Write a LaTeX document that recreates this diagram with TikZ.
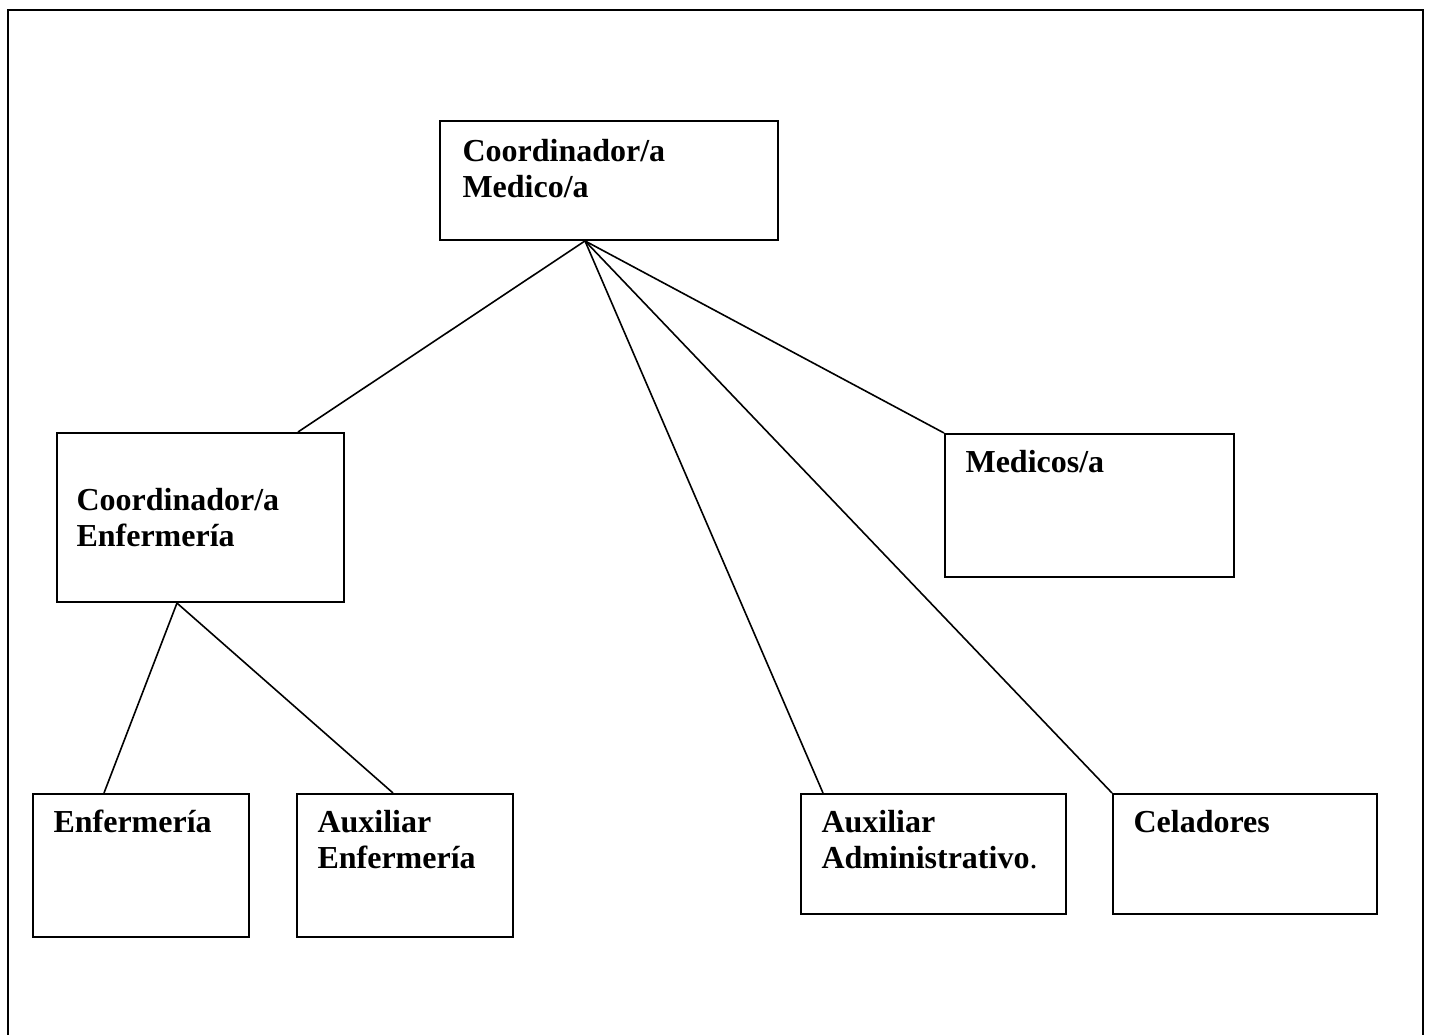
\documentclass[tikz,border=0pt]{standalone}
\usepackage{fontspec}
\setmainfont{Liberation Serif}
\usetikzlibrary{positioning}

\begin{document}
\begin{tikzpicture}[
  x=0.375pt, y=-0.375pt,
  font=\fontsize{12}{13.5}\selectfont\bfseries,
  box/.style={draw=black, rectangle, line width=0.75pt, inner sep=0pt, anchor=north west},
  lbl/.style={anchor=base west, align=left, inner sep=0pt},
  ln/.style={draw=black, line width=0.6pt}]

\useasboundingbox (0,0) rectangle (1431,1035);

% --- outer frame (runs off the bottom of the page)
\draw[line width=1.1pt] (8,1035) |- (1423,10) -- (1423,1035);

% --- top: coordinator (base = last line)
\node[box, minimum width=126.75pt, minimum height=44.6pt] (coordmed) at (439,120) {};
\node[lbl] (coordmed-t) at ([shift={(23,78)}]coordmed.north west) {Coordinador/a\\Medico/a};

% --- middle row
\node[box, minimum width=107.6pt, minimum height=63.4pt] (coordenf) at (56,432) {};
\node[lbl] (coordenf-t) at ([shift={(20,115)}]coordenf.north west) {Coordinador/a\\Enfermería};
\node[box, minimum width=108.4pt, minimum height=53.6pt] (medicos) at (944,433) {};
\node[lbl] (medicos-t) at ([shift={(21,40)}]medicos.north west) {Medicos/a};

% --- bottom row
\node[box, minimum width=81pt, minimum height=53.6pt] (enf) at (32,793) {};
\node[lbl] (enf-t) at ([shift={(21,40)}]enf.north west) {Enfermería};
\node[box, minimum width=81pt, minimum height=53.6pt] (auxenf) at (296,793) {};
\node[lbl] (auxenf-t) at ([shift={(21,76)}]auxenf.north west) {Auxiliar\\Enfermería};
\node[box, minimum width=99.4pt, minimum height=45pt] (auxadm) at (800,793) {};
\node[lbl] (auxadm-t) at ([shift={(21,76)}]auxadm.north west) {Auxiliar\\Administrativo\textmd{.}};
\node[box, minimum width=99pt, minimum height=45pt] (celad) at (1112,793) {};
\node[lbl] (celad-t) at ([shift={(21,40)}]celad.north west) {Celadores};

% --- connectors
\coordinate (medhub) at ([shift={(-24,0)}]coordmed.south);
\coordinate (enfhub) at ([shift={(-23.5,0)}]coordenf.south);
\draw[ln] (medhub) -- ([shift={(97.5,0)}]coordenf.north);
\draw[ln] (medhub) -- (medicos.north west);
\draw[ln] (medhub) -- ([shift={(23,0)}]auxadm.north west);
\draw[ln] (medhub) -- (celad.north west);
\draw[ln] (enfhub) -- ([shift={(-37,0)}]enf.north);
\draw[ln] (enfhub) -- ([shift={(-12,0)}]auxenf.north);
\end{tikzpicture}
\end{document}
